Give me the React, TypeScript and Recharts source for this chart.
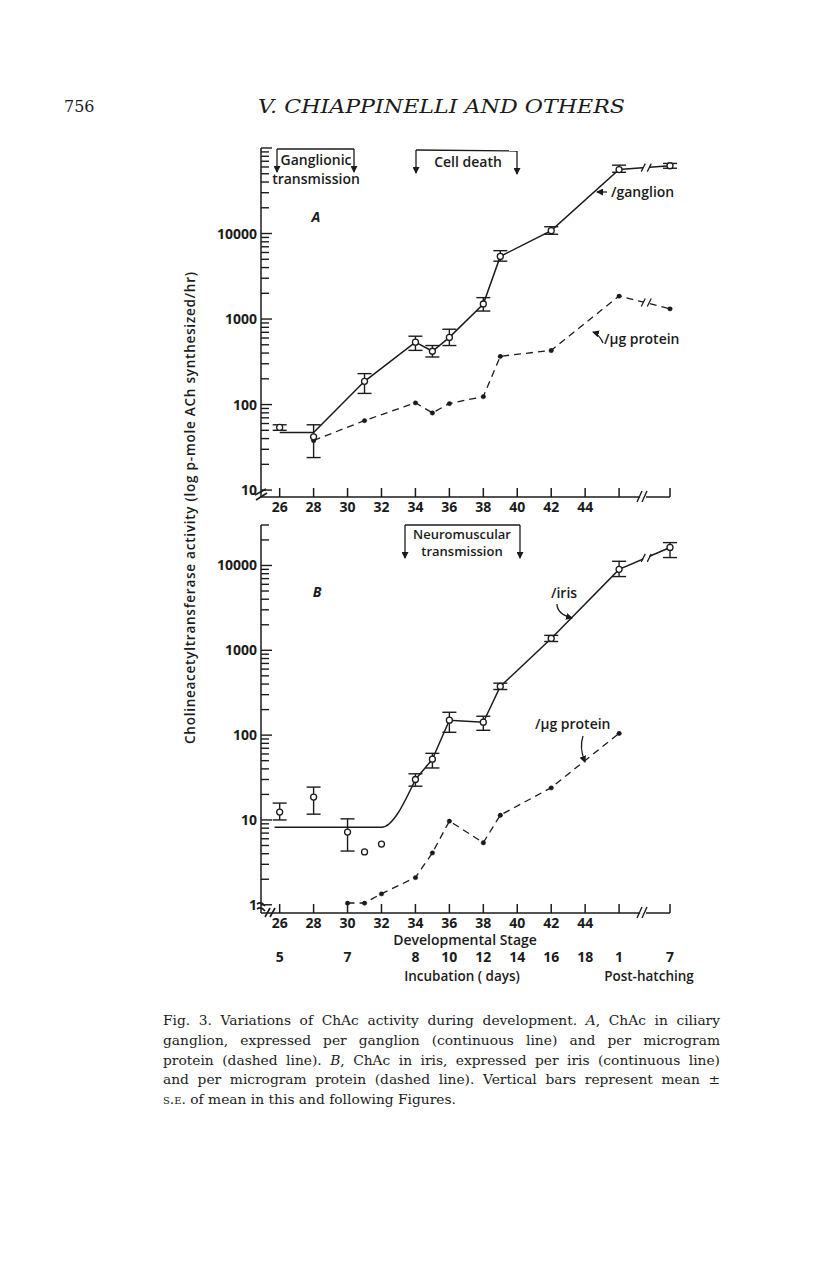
import React from "react";
import { ComposedChart, Line, XAxis, YAxis, ErrorBar, ReferenceDot } from "recharts";

const INK = "#1b1b1b";
const SANS = "'Open Sans', 'DejaVu Sans', sans-serif";
const SERIF = "'DejaVu Serif', serif";

// ---- A: ciliary ganglion ----
const gangStage = [26, 28, 31, 34, 35, 36, 38, 39, 42, 46, 49];
const gangLine = [47, 47, 187, 537, 420, 610, 1500, 5400, 10800, 56000, 62000];
const gangMean = [54, 42, 187, 537, 420, 610, 1500, 5400, 10800, 56000, 62000];
const gangLow = [50, 24, 135, 430, 360, 490, 1240, 4750, 9800, 52000, 58000];
const gangHigh = [58, 58, 230, 630, 490, 760, 1780, 6300, 12000, 63000, 66000];

const gangProtStage = [28, 31, 34, 35, 36, 38, 39, 42, 46, 49];
const gangProt = [38, 65, 105, 80, 103, 124, 367, 430, 1860, 1320];

// ---- B: iris ----
const irisFitStage = [25.7, 32, 34];
const irisFit = [8.2, 8.2, 30];
const irisStage = [34, 35, 36, 38, 39, 42, 46, 49];
const irisMean = [30, 52, 150, 142, 375, 1380, 9000, 16300];
const irisLow = [25, 41, 108, 114, 345, 1270, 7400, 12400];
const irisHigh = [35, 61, 186, 167, 410, 1500, 11200, 18600];
const irisEarlyStage = [26, 28, 30];
const irisEarlyMean = [12.4, 18.6, 7.2];
const irisEarlyLow = [10, 11.7, 4.3];
const irisEarlyHigh = [15.8, 24.4, 10.3];
const irisLoneStage = [31, 32];
const irisLone = [4.2, 5.2];

const irisProtStage = [30, 31, 32, 34, 35, 36, 38, 39, 42, 46];
const irisProt = [1.05, 1.05, 1.35, 2.1, 4.1, 9.7, 5.4, 11.4, 24, 105];

// axes
const stageTicks = [26, 28, 30, 32, 34, 36, 38, 40, 42, 44, 46, 49];
const stageLabels = ["26", "28", "30", "32", "34", "36", "38", "40", "42", "44", "", ""];
const incStage = [26, 30, 34, 36, 38, 40, 42, 44, 46, 49];
const incLabels = ["5", "7", "8", "10", "12", "14", "16", "18", "1", "7"];
const yLabelsA = [10, 100, 1000, 10000];
const yLabelsB = [1, 10, 100, 1000, 10000];

const logTicks = (lo: number, hi: number) => {
  const out: number[] = [];
  for (let d = lo; d < hi; d *= 10) for (let m = 1; m < 10; m++) out.push(m * d);
  out.push(hi);
  return out;
};
const yTicksA = logTicks(10, 100000);
const yTicksB = [...logTicks(1, 10000), 20000, 30000];

const rows = (xs: number[], ys: number[]) => xs.map((s, i) => ({ stage: s, v: ys[i] }));
const rowsErr = (xs: number[], ys: number[], lo: number[], hi: number[]) =>
  xs.map((s, i) => ({ stage: s, v: ys[i], err: [ys[i] - lo[i], hi[i] - ys[i]] }));

const tickText = { fontFamily: SANS, fontSize: 14, fontWeight: 700, fill: INK } as const;

const yTick = (labels: number[]) => (props: any) => {
  const { x, y, payload } = props;
  const major = labels.includes(payload.value) || payload.value >= 100000;
  return (
    <g>
      <line x1={x} x2={x + (major ? 11 : 8)} y1={y} y2={y} stroke={INK} strokeWidth={1.4} />
      {labels.includes(payload.value) ? (
        <text x={x - 4} y={y + 5} textAnchor="end" {...tickText}>{payload.value}</text>
      ) : null}
    </g>
  );
};

// stage ticks point up into the plot; panel B also carries the incubation-day row
const stageTick = (withDays: boolean) => (props: any) => {
  const { x, y, payload } = props;
  const label = stageLabels[stageTicks.indexOf(payload.value)];
  const di = incStage.indexOf(payload.value);
  return (
    <g>
      <line x1={x} x2={x} y1={y} y2={y - 9} stroke={INK} strokeWidth={1.5} />
      {label ? <text x={x} y={y + 14.5} textAnchor="middle" {...tickText}>{label}</text> : null}
      {withDays && di >= 0 ? (
        <text x={x} y={y + 49} textAnchor="middle" {...tickText}>{incLabels[di]}</text>
      ) : null}
    </g>
  );
};

// "//" break drawn across a line
const BreakMark = (p: any) => (
  <g stroke={INK} strokeWidth={1.3}>
    <rect x={p.cx - 3} y={p.cy - 4} width={6} height={8} fill="#fff" stroke="none" />
    <line x1={p.cx - 5} y1={p.cy + 4} x2={p.cx - 1} y2={p.cy - 4} />
    <line x1={p.cx + 1} y1={p.cy + 4} x2={p.cx + 5} y2={p.cy - 4} />
  </g>
);

const openDot = { r: 3, fill: "#fff", stroke: INK, strokeWidth: 1.3 };
const fullDot = { r: 2.3, fill: INK, stroke: INK, strokeWidth: 0.5 };
const err = <ErrorBar dataKey="err" width={7} stroke={INK} strokeWidth={1.4} direction="y" />;

function Overlay() {
  const t = { fontFamily: SANS, fontWeight: 600, fill: INK } as const;
  return (
    <svg width={816} height={1264} style={{ position: "absolute", left: 0, top: 0, pointerEvents: "none" }}>
      <defs>
        <marker id="ah" markerUnits="userSpaceOnUse" markerWidth={7} markerHeight={7} refX={6} refY={3.5} orient="auto">
          <path d="M0,0 L7,3.5 L0,7 z" fill={INK} />
        </marker>
      </defs>
      {/* page header */}
      <text x={64} y={112} fontFamily={SERIF} fontSize={16} fill={INK}>756</text>
      <text x={258} y={113} fontFamily={SERIF} fontStyle="italic" fontSize={19} fill={INK} textLength={367} lengthAdjust="spacingAndGlyphs">
        V. CHIAPPINELLI AND OTHERS
      </text>

      {/* y axis title */}
      <text transform="translate(195,508) rotate(-90)" textAnchor="middle" fontSize={13.5} textLength={472} {...t}>
        Cholineacetyltransferase activity (log p-mole ACh synthesized/hr)
      </text>

      <g stroke={INK} strokeWidth={1.3} fill="none">
        {/* Ganglionic transmission */}
        <path d="M277,149 L354,149" />
        <path d="M277,149 L277,172" markerEnd="url(#ah)" />
        <path d="M354,149 L354,172" markerEnd="url(#ah)" />
        {/* Cell death */}
        <path d="M416,150 L517,151" />
        <path d="M416,150 L416,173" markerEnd="url(#ah)" />
        <path d="M517,151 L517,174" markerEnd="url(#ah)" />
        {/* Neuromuscular transmission */}
        <path d="M405,525 L520,525" />
        <path d="M405,525 L405,558" markerEnd="url(#ah)" />
        <path d="M520,525 L520,558" markerEnd="url(#ah)" />
        {/* pointers */}
        <path d="M607,192 L597,192" markerEnd="url(#ah)" />
        <path d="M603,343 Q599,334 593,332" markerEnd="url(#ah)" />
        <path d="M557,604 Q557,614 572,618" markerEnd="url(#ah)" />
        <path d="M583,736 Q579,748 585,762" markerEnd="url(#ah)" />
      </g>

      <text x={316} y={165} textAnchor="middle" fontSize={14} {...t}>Ganglionic</text>
      <text x={316} y={184} textAnchor="middle" fontSize={14} {...t}>transmission</text>
      <text x={468} y={167} textAnchor="middle" fontSize={14} {...t}>Cell death</text>
      <text x={462} y={539} textAnchor="middle" fontSize={13} {...t}>Neuromuscular</text>
      <text x={462} y={556} textAnchor="middle" fontSize={13} {...t}>transmission</text>
      <text x={316} y={222} textAnchor="middle" fontSize={14} fontStyle="italic" {...t} fontWeight={700}>A</text>
      <text x={317} y={597} textAnchor="middle" fontSize={14} fontStyle="italic" {...t} fontWeight={700}>B</text>
      <text x={611} y={197} fontSize={14} {...t}>/ganglion</text>
      <text x={604} y={344} fontSize={14} {...t}>/μg protein</text>
      <text x={551} y={598} fontSize={14} {...t}>/iris</text>
      <text x={535} y={729} fontSize={14} {...t}>/μg protein</text>

      {/* x axis breaks */}
      {[497, 913].map((y) => (
        <g key={y} stroke={INK} strokeWidth={1.4}>
          <rect x={640} y={y - 2} width={6} height={4} fill="#fff" stroke="none" />
          <line x1={637} y1={y + 5} x2={642} y2={y - 6} />
          <line x1={642} y1={y + 5} x2={647} y2={y - 6} />
        </g>
      ))}
      {/* y axis breaks at origin */}
      <g stroke={INK} strokeWidth={1.6} fill="none">
        <path d="M255,495 L266,489" />
        <path d="M256,500 L267,493" />
        <path d="M257,904 Q261,901 265,906" />
        <path d="M257,909 Q261,906 265,911" />
        <line x1={265} y1={917} x2={270} y2={908} />
        <line x1={270} y1={917} x2={275} y2={908} />
      </g>

      <text x={465} y={945} textAnchor="middle" fontSize={14} {...t}>Developmental Stage</text>
      <text x={462} y={981} textAnchor="middle" fontSize={13.5} {...t}>Incubation ( days)</text>
      <text x={649} y={981} textAnchor="middle" fontSize={13.5} {...t}>Post-hatching</text>
    </svg>
  );
}

const captionLines = [
  <>Fig. 3. Variations of ChAc activity during development. <i>A</i>, ChAc in ciliary</>,
  <>ganglion, expressed per ganglion (continuous line) and per microgram</>,
  <>protein (dashed line). <i>B</i>, ChAc in iris, expressed per iris (continuous line)</>,
  <>and per microgram protein (dashed line). Vertical bars represent mean ±</>,
  <><span style={{ fontVariant: "small-caps" }}>s.e.</span> of mean in this and following Figures.</>,
];

export default function App() {
  const xCommon = { type: "number" as const, dataKey: "stage", domain: [24.9, 49] };
  return (
    <div style={{ position: "absolute", left: 0, top: 0, width: 816, height: 1264, background: "#fff" }}>
      {/* Panel A */}
      <div style={{ position: "absolute", left: 0, top: 120 }}>
        <ComposedChart width={816} height={410} margin={{ top: 28, right: 146, bottom: 11, left: 201 }}>
          <XAxis {...xCommon} ticks={stageTicks} interval={0} height={22} tickSize={0} tickMargin={0}
            tick={stageTick(false)} axisLine={{ stroke: INK, strokeWidth: 1.5 }} tickLine={false} />
          <YAxis type="number" scale="log" domain={[8.3, 100000]} ticks={yTicksA} interval={0} width={60}
            tickSize={0} tickMargin={0} tick={yTick(yLabelsA)} axisLine={{ stroke: INK, strokeWidth: 1.5 }} tickLine={false} />
          <Line data={rows(gangProtStage, gangProt)} dataKey="v" stroke={INK} strokeWidth={1.3} strokeDasharray="7 5"
            dot={fullDot} isAnimationActive={false} />
          <Line data={rows(gangStage, gangLine)} dataKey="v" stroke={INK} strokeWidth={1.5} dot={false} isAnimationActive={false} />
          <Line data={rowsErr(gangStage, gangMean, gangLow, gangHigh)} dataKey="v" stroke="none" dot={openDot}
            isAnimationActive={false}>
            {err}
          </Line>
          <ReferenceDot x={47.6} y={59000} r={0} shape={BreakMark} />
          <ReferenceDot x={47.6} y={1560} r={0} shape={BreakMark} />
        </ComposedChart>
      </div>

      {/* Panel B */}
      <div style={{ position: "absolute", left: 0, top: 510 }}>
        <ComposedChart width={816} height={490} margin={{ top: 15, right: 146, bottom: 49, left: 201 }}>
          <XAxis {...xCommon} ticks={stageTicks} interval={0} height={38} tickSize={0} tickMargin={0}
            tick={stageTick(true)} axisLine={{ stroke: INK, strokeWidth: 1.5 }} tickLine={false} />
          <YAxis type="number" scale="log" domain={[0.8, 30000]} ticks={yTicksB} interval={0} width={60}
            tickSize={0} tickMargin={0} tick={yTick(yLabelsB)} axisLine={{ stroke: INK, strokeWidth: 1.5 }} tickLine={false} />
          <Line data={rows(irisProtStage, irisProt)} dataKey="v" stroke={INK} strokeWidth={1.3} strokeDasharray="7 5"
            dot={fullDot} isAnimationActive={false} />
          <Line data={rows(irisFitStage, irisFit)} dataKey="v" type="monotoneX" stroke={INK} strokeWidth={1.5}
            dot={false} isAnimationActive={false} />
          <Line data={rowsErr(irisStage, irisMean, irisLow, irisHigh)} dataKey="v" stroke={INK} strokeWidth={1.5}
            dot={openDot} isAnimationActive={false}>
            {err}
          </Line>
          <Line data={rowsErr(irisEarlyStage, irisEarlyMean, irisEarlyLow, irisEarlyHigh)} dataKey="v" stroke="none"
            dot={openDot} isAnimationActive={false}>
            {err}
          </Line>
          <Line data={rows(irisLoneStage, irisLone)} dataKey="v" stroke="none" dot={openDot} isAnimationActive={false} />
          <ReferenceDot x={47.6} y={12300} r={0} shape={BreakMark} />
        </ComposedChart>
      </div>

      <Overlay />

      {/* caption */}
      {captionLines.map((line, i) => (
        <div key={i} style={{
          position: "absolute", left: 163, top: 1010 + i * 19.75, width: 557, lineHeight: "20px",
          fontFamily: SERIF, fontSize: 13.8, color: INK, whiteSpace: "nowrap",
          textAlign: i < 4 ? "justify" : "left", textAlignLast: i < 4 ? "justify" : "left",
        }}>
          {line}
        </div>
      ))}
    </div>
  );
}
